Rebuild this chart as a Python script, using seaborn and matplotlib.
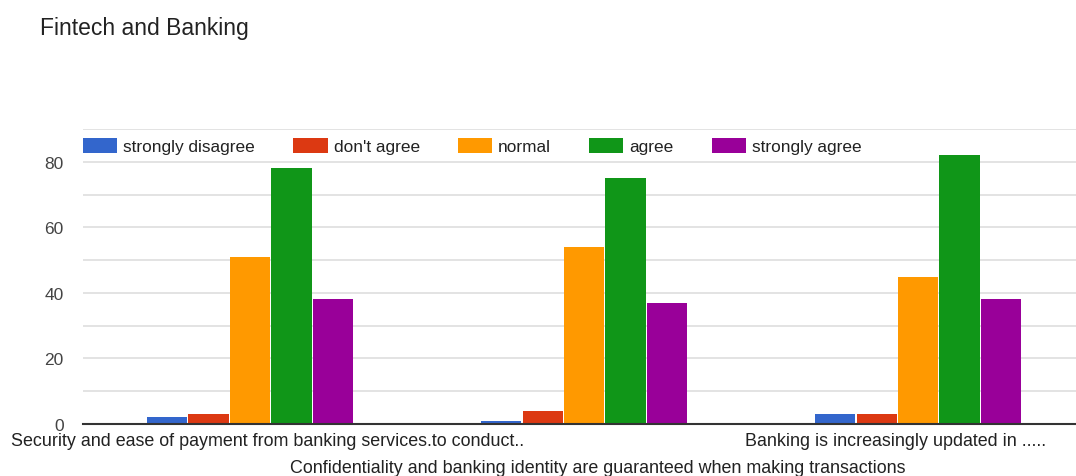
import matplotlib
matplotlib.use("Agg")
import matplotlib.pyplot as plt
import matplotlib.transforms as mtransforms
from matplotlib.ticker import MultipleLocator
import seaborn as sns
import pandas as pd

statements = [
    "Security and ease of payment from banking services.to conduct..",
    "Confidentiality and banking identity are guaranteed when making transactions",
    "Banking is increasingly updated in .....",
]
responses = ["strongly disagree", "don't agree", "normal", "agree", "strongly agree"]
strongly_disagree = [2, 1, 3]
dont_agree = [3, 4, 3]
normal = [51, 54, 45]
agree = [78, 75, 82]
strongly_agree = [38, 37, 38]
colors = ["#3366cc", "#dc3912", "#ff9900", "#109618", "#990099"]

series = [strongly_disagree, dont_agree, normal, agree, strongly_agree]
rows = []
for resp, vals in zip(responses, series):
    for stmt, v in zip(statements, vals):
        rows.append({"statement": stmt, "response": resp, "count": v})
df = pd.DataFrame(rows)

sns.set_theme(style="white")
plt.rcParams["font.family"] = ["Liberation Sans", "DejaVu Sans"]

W, H = 1076, 477
fig = plt.figure(figsize=(W / 100, H / 100), dpi=100)
ax = fig.add_axes([83 / W, (H - 425) / H, 1 - 83 / W, 295 / H])

sns.barplot(data=df, x="statement", y="count", hue="response",
            order=statements, hue_order=responses, palette=colors,
            width=0.62, gap=0.03, saturation=1, ax=ax, legend=True,
            linewidth=0)

ax.set_ylim(0, 90)
ax.set_xlim(-0.5, 2.473)
ax.yaxis.set_major_locator(MultipleLocator(20))
ax.yaxis.set_minor_locator(MultipleLocator(10))
ax.grid(axis="y", which="both", color="#dedede", linewidth=1.2)
ax.set_axisbelow(True)
for s in ["top", "right", "left"]:
    ax.spines[s].set_visible(False)
ax.spines["bottom"].set_color("#333333")
ax.spines["bottom"].set_linewidth(1.5)
ax.spines["bottom"].set_zorder(5)

ax.set_xlabel("")
ax.set_ylabel("")
ax.tick_params(axis="y", which="both", length=0, labelsize=12.5, labelcolor="#444444", pad=14)
ax.tick_params(axis="x", length=0, labelsize=12.9, labelcolor="#222222", pad=6)

# Category labels: staggered so the long middle one sits on a second row
ax.set_xticks(range(len(statements)))
ax.set_xticklabels(statements)
offsets = [(18, 0), (14, -27), (-22, 0)]
for lab, (dx, dy) in zip(ax.get_xticklabels(), offsets):
    lab.set_transform(lab.get_transform()
                      + mtransforms.ScaledTranslation(dx / 100, dy / 100, fig.dpi_scale_trans))

leg = ax.legend(loc="center left", bbox_to_anchor=(0, 0.942), ncol=5, frameon=False,
                fontsize=12.4, handlelength=2.0, handleheight=1.0, handletextpad=0.35,
                columnspacing=2.2, borderaxespad=0, borderpad=0)
for t in leg.get_texts():
    t.set_color("#222222")

fig.text(40 / W, 1 - 28 / H, "Fintech and Banking", fontsize=16.5, color="#222222",
         va="center", ha="left")

fig.savefig("out.png", dpi=100, facecolor="white")
